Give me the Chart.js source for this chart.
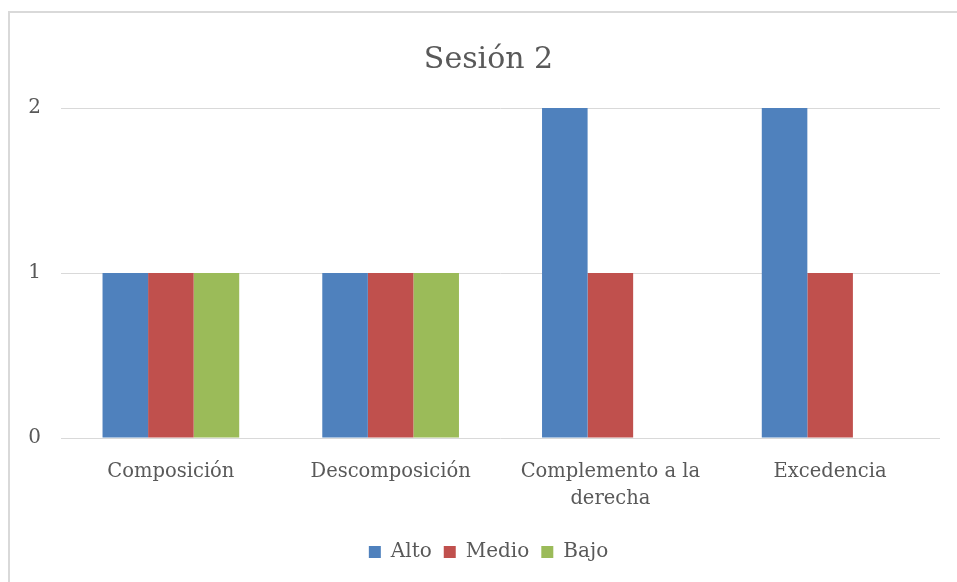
<!DOCTYPE html>
<html>
<head>
<meta charset="utf-8">
<script src="https://cdn.jsdelivr.net/npm/chart.js@4"></script>
<style>
  html, body { margin: 0; padding: 0; background: #fff; }
  #wrap { position: relative; width: 957px; height: 582px; overflow: hidden; }
  #frame {
    position: absolute; left: 8px; top: 11px; width: 980px; height: 600px;
    border: 2px solid #d9d9d9; box-sizing: border-box;
  }
  canvas { position: absolute; left: 0; top: 0; }
</style>
</head>
<body>
<div id="wrap">
  <div id="frame"></div>
  <canvas id="chart" width="957" height="582"></canvas>
</div>
<script>
// Sesión 2 - niveles por categoría
const categories = ["Composición", "Descomposición", ["Complemento a la", "derecha"], "Excedencia"];
const alto = [1, 1, 2, 2];
const medio = [1, 1, 1, 1];
const bajo = [1, 1, 0, 0];
const yTicks = [0, 1, 2];

const FONT = "'DejaVu Serif', serif";
const TEXT = "#595959";

const COLORS = {
  alto: "#4F81BD",
  medio: "#C0504D",
  bajo: "#9BBB59",
};

function makeSet(label, data, color) {
  return {
    label: label,
    data: data,
    backgroundColor: color,
    borderWidth: 0,
    categoryPercentage: 0.622,
    barPercentage: 1.0,
  };
}

new Chart(document.getElementById("chart"), {
  type: "bar",
  data: {
    labels: categories,
    datasets: [
      makeSet("Alto", alto, COLORS.alto),
      makeSet("Medio", medio, COLORS.medio),
      makeSet("Bajo", bajo, COLORS.bajo),
    ],
  },
  options: {
    responsive: false,
    animation: false,
    layout: { padding: { left: 20, right: 0, top: 0, bottom: 10 } },
    plugins: {
      title: {
        display: true,
        text: "Sesión 2",
        color: TEXT,
        font: { family: FONT, size: 30, weight: "normal" },
        padding: { top: 42, bottom: 30 },
      },
      legend: {
        position: "bottom",
        labels: {
          color: TEXT,
          font: { family: FONT, size: 20 },
          boxWidth: 12,
          boxHeight: 12,
          padding: 12,
        },
      },
      tooltip: { enabled: false },
    },
    scales: {
      x: {
        grid: { display: false, drawTicks: false },
        border: { display: false },
        ticks: {
          color: TEXT,
          font: { family: FONT, size: 19.5, lineHeight: 1.4 },
          padding: 20,
          maxRotation: 0,
        },
        afterFit: (scale) => { scale.height = 92; },
      },
      y: {
        min: 0,
        max: 2,
        afterBuildTicks: (scale) => { scale.ticks = yTicks.map((v) => ({ value: v })); },
        grid: { color: "#d9d9d9", lineWidth: 1, drawTicks: false },
        border: { display: false },
        ticks: {
          color: TEXT,
          font: { family: FONT, size: 20 },
          padding: 20,
        },
        afterFit: (scale) => { scale.width = 41; },
      },
      // empty right-hand spacer so the title centres like the original
      yRight: {
        type: "linear",
        position: "right",
        grid: { display: false, drawTicks: false },
        border: { display: false },
        ticks: { display: false },
        afterFit: (scale) => { scale.width = 17; },
      },
    },
  },
});
</script>
</body>
</html>
